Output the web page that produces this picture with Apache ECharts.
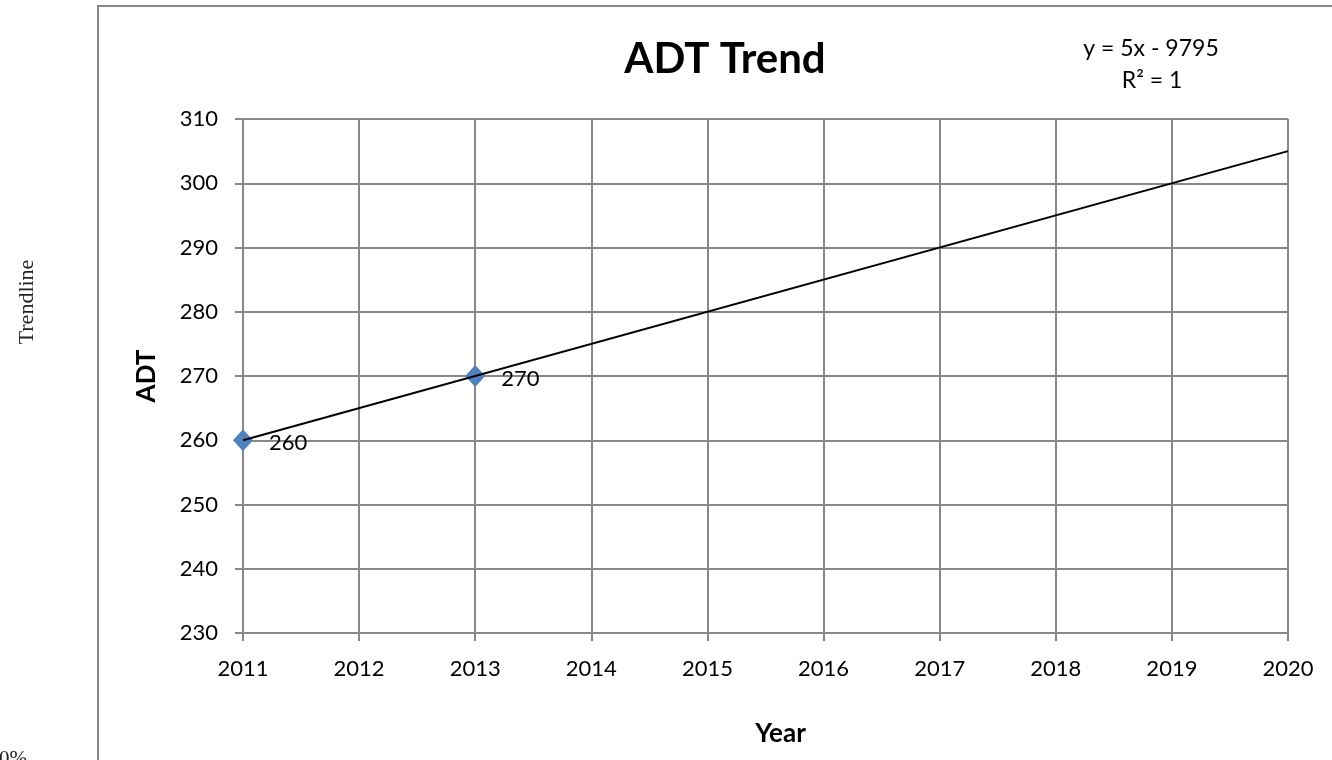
<!DOCTYPE html>
<html>
<head>
<meta charset="utf-8">
<script src="https://cdn.jsdelivr.net/npm/echarts@6/dist/echarts.min.js"></script>
<style>
  html, body { margin: 0; padding: 0; background: #fff; }
  #chart { width: 1332px; height: 760px; }
</style>
</head>
<body>
<div id="chart"></div>
<script>
// Observed average daily traffic counts
const years = [2011, 2013];
const adtValues = [260, 270];

// Linear trendline endpoints (y = 5x - 9795)
const trendYears = [2011, 2020];
const trendValues = [260, 305];

// Axis ranges
const yearMin = 2011, yearMax = 2020, yearStep = 1;
const adtMin = 230, adtMax = 310, adtStep = 10;

const gridGray = '#888888';
const textFont = 'Lato, "Open Sans", sans-serif';
const serifFont = '"Liberation Serif", "DejaVu Serif", serif';

const chart = echarts.init(document.getElementById('chart'));
chart.setOption({
  animation: false,
  backgroundColor: '#fff',
  title: {
    text: 'ADT Trend',
    left: 720, top: 33,
    textAlign: 'center',
    textStyle: { fontFamily: textFont, fontWeight: 'bold', fontSize: 42, color: '#000' }
  },
  grid: { left: 243, right: 44, top: 119, bottom: 127 },
  xAxis: {
    type: 'value',
    min: yearMin, max: yearMax, interval: yearStep,
    name: 'Year', nameLocation: 'middle', nameGap: 88,
    nameTextStyle: { fontFamily: textFont, fontWeight: 'bold', fontSize: 26, color: '#000', padding: [0, 0, 0, 30] },
    axisLine: { show: true, lineStyle: { color: gridGray, width: 2 } },
    axisTick: { show: true, length: 8, lineStyle: { color: gridGray, width: 2 } },
    splitLine: { show: true, lineStyle: { color: gridGray, width: 2 } },
    axisLabel: { fontFamily: textFont, fontSize: 22, color: '#000', margin: 25, formatter: v => String(v) }
  },
  yAxis: {
    type: 'value',
    min: adtMin, max: adtMax, interval: adtStep,
    name: 'ADT', nameLocation: 'middle', nameGap: 83, nameRotate: 90,
    nameTextStyle: { fontFamily: textFont, fontWeight: 'bold', fontSize: 26, color: '#000' },
    axisLine: { show: true, lineStyle: { color: gridGray, width: 2 } },
    axisTick: { show: true, length: 8, lineStyle: { color: gridGray, width: 2 } },
    splitLine: { show: true, lineStyle: { color: gridGray, width: 2 } },
    axisLabel: { fontFamily: textFont, fontSize: 22, color: '#000', margin: 25 }
  },
  series: [
    {
      name: 'Trendline',
      type: 'line',
      data: trendYears.map((y, i) => [y, trendValues[i]]),
      symbol: 'none',
      lineStyle: { color: '#000', width: 2 },
      z: 3
    },
    {
      name: 'ADT',
      type: 'scatter',
      data: years.map((y, i) => [y, adtValues[i]]),
      symbol: 'diamond',
      symbolSize: [20, 22],
      itemStyle: { color: '#4F81BD', opacity: 1 },
      label: {
        show: true, position: 'right', distance: 16, offset: [0, 3],
        fontFamily: textFont, fontSize: 22, color: '#000', opacity: 1,
        formatter: p => String(p.value[1])
      },
      z: 2
    }
  ],
  graphic: [
    {
      type: 'rect',
      shape: { x: 98, y: 6, width: 1400, height: 900 },
      style: { fill: 'none', stroke: gridGray, lineWidth: 2 },
      silent: true
    },
    {
      type: 'text',
      x: 1151, y: 49,
      style: { text: 'y = 5x - 9795', align: 'center', verticalAlign: 'middle', fontFamily: textFont, fontSize: 23, fill: '#000' }
    },
    {
      type: 'text',
      x: 1152, y: 81,
      style: { text: 'R² = 1', align: 'center', verticalAlign: 'middle', fontFamily: textFont, fontSize: 23, fill: '#000' }
    },
    {
      type: 'text',
      x: 27, y: 302,
      rotation: Math.PI / 2,
      style: { text: 'Trendline', align: 'center', verticalAlign: 'middle', fontFamily: serifFont, fontSize: 22, fill: '#222' }
    },
    {
      type: 'text',
      x: -1, y: 749,
      style: { text: '0%', fontFamily: serifFont, fontSize: 21, fill: '#222' }
    }
  ]
});
</script>
</body>
</html>
